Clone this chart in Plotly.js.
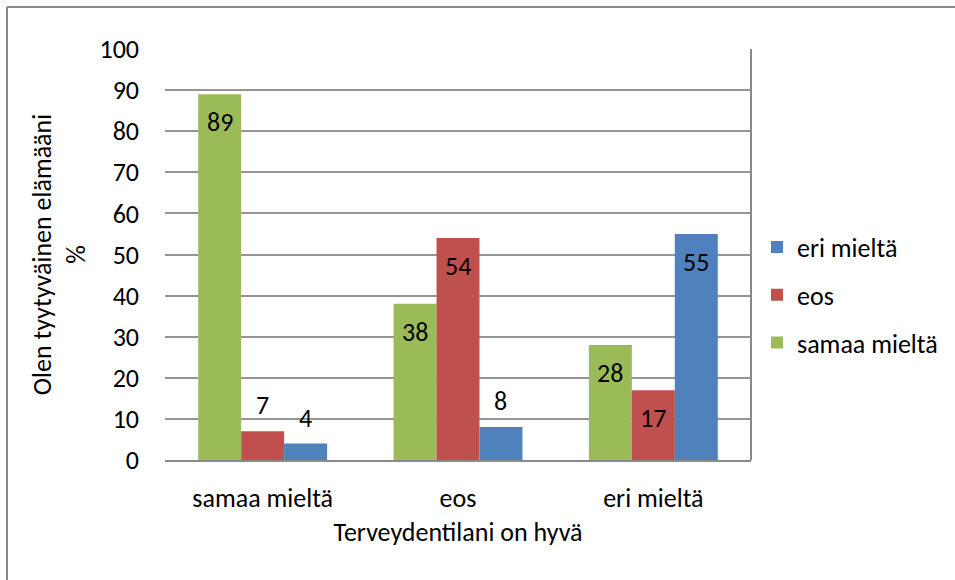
<!DOCTYPE html>
<html><head><meta charset="utf-8">
<script src="https://cdn.plot.ly/plotly-3.0.1.min.js"></script>
<style>html,body{margin:0;padding:0;background:#fff}#chart{width:955px;height:580px}</style>
</head><body><div id="chart"></div>
<script>
// ---- data ----
const categories = ['samaa mieltä', 'eos', 'eri mieltä'];
const seriesNames = ['samaa mieltä', 'eos', 'eri mieltä'];
const samaaMielta = [89, 38, 28];
const eos = [7, 54, 17];
const eriMielta = [4, 8, 55];
const yTickValues = [0, 10, 20, 30, 40, 50, 60, 70, 80, 90, 100];
const xTitle = 'Terveydentilani on hyvä';
const yTitle = 'Olen tyytyväinen elämääni<br>%';
const colors = ['#9BBB59', '#C0504D', '#4F81BD'];

// ---- layout constants ----
const W = 955, H = 580;
const M = {l: 165, r: 204, t: 49, b: 120};
const plotW = W - M.l - M.r, plotH = H - M.t - M.b;
const bargap = 0.34;
const series = [samaaMielta, eos, eriMielta];
const catW = plotW / categories.length;
const barW = catW * (1 - bargap) / series.length;
const yMax = 100;
const pxPerUnit = plotH / yMax;
const FONT = 'Carlito, Calibri, "Liberation Sans", Arial, sans-serif';
const FS = 26;

const traces = series.map((vals, i) => ({
  type: 'bar', name: seriesNames[i], x: categories, y: vals,
  marker: {color: colors[i], line: {width: 0}},
  legendgroup: 'g' + i, legendrank: series.length - i, hoverinfo: 'none'
}));

const annotations = [];
series.forEach((vals, i) => vals.forEach((v, j) => {
  const inside = v * pxPerUnit > 50;
  annotations.push({
    x: categories[j], y: v, xref: 'x', yref: 'y', text: String(v),
    showarrow: false, xshift: (i - (series.length - 1) / 2) * barW,
    yshift: inside ? -28 : 26, xanchor: 'center', yanchor: 'middle',
    font: {size: FS, color: '#000', family: FONT}
  });
}));

const px2x = p => (p - M.l) / plotW;
const py2y = p => (H - M.b - p) / plotH;
const frameColor = '#8a8a8a';
const shapes = [
  {type: 'line', xref: 'paper', yref: 'paper', x0: px2x(7), x1: px2x(7), y0: py2y(H), y1: py2y(7), line: {color: frameColor, width: 2}},
  {type: 'line', xref: 'paper', yref: 'paper', x0: px2x(7), x1: px2x(W), y0: py2y(7), y1: py2y(7), line: {color: frameColor, width: 2}},
  {type: 'line', xref: 'paper', yref: 'paper', x0: 1, x1: 1, y0: 0, y1: 1, line: {color: frameColor, width: 2}}
];

const layout = {
  width: W, height: H, margin: M,
  paper_bgcolor: '#fff', plot_bgcolor: '#fff',
  font: {family: FONT, size: FS, color: '#000'},
  barmode: 'group', bargap: bargap, bargroupgap: 0,
  showlegend: true,
  legend: {x: px2x(757), y: py2y(295), xanchor: 'left', yanchor: 'middle',
           traceorder: 'grouped', tracegroupgap: 11,
           font: {size: FS, family: FONT, color: '#000'}, bgcolor: 'rgba(0,0,0,0)'},
  xaxis: {type: 'category', showline: true, linecolor: frameColor, linewidth: 2,
          ticks: '', showgrid: false, zeroline: false, automargin: false,
          ticklabelstandoff: 14, tickfont: {size: FS, family: FONT, color: '#000'},
          title: {text: xTitle, standoff: 10, font: {size: FS, family: FONT, color: '#000'}}},
  yaxis: {range: [0, yMax], tickvals: yTickValues, ticktext: yTickValues.map(String),
          showgrid: true, gridcolor: '#959595', gridwidth: 2, zeroline: false,
          showline: false, ticks: '', automargin: false, ticklabelstandoff: 25,
          tickfont: {size: FS, family: FONT, color: '#000'},
          title: {text: yTitle, standoff: 6, font: {size: FS, family: FONT, color: '#000'}}},
  annotations: annotations, shapes: shapes
};

Plotly.newPlot('chart', traces, layout, {displayModeBar: false, staticPlot: true});
</script></body></html>
